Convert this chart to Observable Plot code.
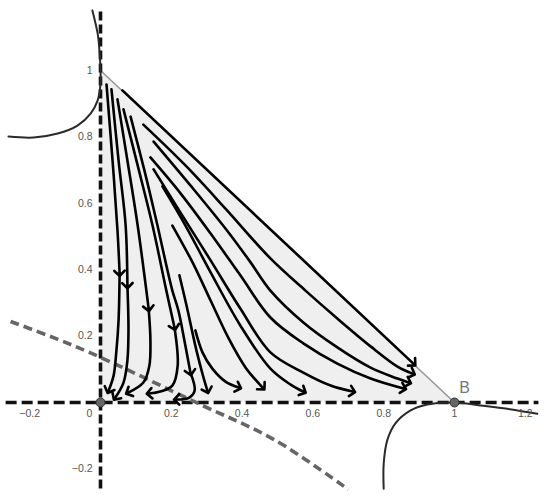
<!DOCTYPE html>
<html>
<head>
<meta charset="utf-8">
<script src="https://cdn.jsdelivr.net/npm/d3@7"></script>
<script src="https://cdn.jsdelivr.net/npm/@observablehq/plot@0.6"></script>
<style>
  body { margin: 0; background: #fff; }
</style>
</head>
<body>
<div id="chart"></div>
<script>
// ---- tick values and labels ----
const xTicks = [-0.2, 0, 0.2, 0.4, 0.6, 0.8, 1, 1.2];
const xTickLabels = ["−0.2", "0", "0.2", "0.4", "0.6", "0.8", "1", "1.2"];
const yTicks = [-0.2, 0.2, 0.4, 0.6, 0.8, 1];
const yTickLabels = ["−0.2", "0.2", "0.4", "0.6", "0.8", "1"];

// ---- region, equilibria, extents ----
const triangle = [[0, 1], [1, 0]];
const equilibria = [[0, 0], [1, 0]];
const equilibriumNames = ["", "B"];
const xAxisExtent = [-0.268, 1.237];
const yAxisExtent = [-0.259, 1.19];

// ---- curves ----
const leftCurve = [[-0.260, 0.801], [-0.189, 0.798], [-0.121, 0.810], [-0.065, 0.834], [-0.028, 0.870], [-0.008, 0.910], [0, 0.961], [0, 1.0], [-0.003, 1.060], [-0.008, 1.111], [-0.023, 1.181]];
const rightCurve = [[0.800, -0.260], [0.800, -0.184], [0.810, -0.114], [0.833, -0.063], [0.876, -0.024], [0.923, -0.006], [1.0, 0], [1.073, -0.009], [1.149, -0.019], [1.234, -0.034]];
const nullcline = [[-0.254, 0.244], [-0.12, 0.19], [0, 0.136], [0.27, 0], [0.494, -0.114], [0.70, -0.262]];

// ---- trajectories ----
const H  = [[0.062, 0.940], [0.884, 0.117]];
const L1 = [[0.017, 0.958], [0.034, 0.729], [0.048, 0.518], [0.054, 0.389], [0.051, 0.247], [0.045, 0.157], [0.037, 0.081], [0.023, 0.036]];
const L2 = [[0.031, 0.943], [0.051, 0.729], [0.071, 0.533], [0.076, 0.352], [0.079, 0.217], [0.076, 0.127], [0.065, 0.060], [0.042, 0.015]];
const L3 = [[0.048, 0.913], [0.076, 0.729], [0.105, 0.533], [0.136, 0.283], [0.141, 0.187], [0.138, 0.111], [0.121, 0.060], [0.079, 0.030]];
const L4 = [[0.065, 0.883], [0.105, 0.714], [0.147, 0.533], [0.186, 0.337], [0.209, 0.226], [0.218, 0.111], [0.203, 0.051], [0.169, 0.033], [0.138, 0.027]];
const L5 = [[0.085, 0.861], [0.124, 0.699], [0.161, 0.533], [0.186, 0.413], [0.203, 0.337], [0.220, 0.277], [0.237, 0.187], [0.254, 0.090], [0.266, 0.036], [0.251, 0.015], [0.215, 0.009]];
const U1 = [[0.121, 0.837], [0.240, 0.714], [0.353, 0.584], [0.480, 0.434], [0.579, 0.337], [0.669, 0.253], [0.763, 0.169], [0.839, 0.108], [0.881, 0.087]];
const U2 = [[0.150, 0.786], [0.254, 0.654], [0.353, 0.524], [0.424, 0.422], [0.480, 0.337], [0.573, 0.241], [0.669, 0.166], [0.763, 0.105], [0.839, 0.072], [0.870, 0.060]];
const U3 = [[0.141, 0.738], [0.226, 0.630], [0.311, 0.509], [0.395, 0.383], [0.480, 0.256], [0.573, 0.178], [0.669, 0.117], [0.763, 0.072], [0.856, 0.042]];
const U4 = [[0.150, 0.702], [0.226, 0.572], [0.311, 0.428], [0.395, 0.283], [0.480, 0.151], [0.573, 0.090], [0.650, 0.051], [0.712, 0.033]];
const U5 = [[0.175, 0.651], [0.240, 0.533], [0.311, 0.392], [0.395, 0.232], [0.480, 0.102], [0.537, 0.054], [0.573, 0.033]];
const U6 = [[0.203, 0.533], [0.260, 0.422], [0.311, 0.307], [0.362, 0.193], [0.410, 0.105], [0.458, 0.045]];
const S2 = [[0.223, 0.383], [0.243, 0.292], [0.271, 0.157], [0.291, 0.075], [0.302, 0.036]];
const S3 = [[0.268, 0.217], [0.288, 0.151], [0.316, 0.102], [0.353, 0.063], [0.390, 0.045]];

const trajectoryNames = ["H", "L1", "L2", "L3", "L4", "L5", "U1", "U2", "U3", "U4", "U5", "U6", "S2", "S3"];
const trajectories = [H, L1, L2, L3, L4, L5, U1, U2, U3, U4, U5, U6, S2, S3];
// index of the point that carries a mid-way arrow (-1: none)
const midArrowIndex = [-1, 3, 3, 3, 4, 7, -1, -1, -1, -1, -1, -1, -1, -1];

// build segments (split where a mid arrow sits)
const segs = [];
trajectories.forEach((pts, k) => {
  const m = midArrowIndex[k];
  const parts = m > 0 ? [pts.slice(0, m + 1), pts.slice(m)] : [pts];
  parts.forEach((p, i) => p.forEach(([x, y]) => segs.push({x, y, seg: trajectoryNames[k] + "_" + i})));
});

const font = "Liberation Sans, Arial, sans-serif";
const xLab = xTicks.map((v, i) => ({v, l: xTickLabels[i]}));
const yLab = yTicks.map((v, i) => ({v, l: yTickLabels[i]}));

const chart = Plot.plot({
  width: 550,
  height: 500,
  margin: 0,
  x: {domain: [-0.2825, 1.2712], axis: null},
  y: {domain: [-0.2952, 1.2108], axis: null},
  style: {background: "#fff", fontFamily: font},
  marks: [
    Plot.areaY(triangle, {x: d => d[0], y: d => d[1], fill: "#efefef"}),
    Plot.line(triangle, {x: d => d[0], y: d => d[1], stroke: "#999", strokeWidth: 1.6}),
    Plot.line([[xAxisExtent[0], 0], [xAxisExtent[1], 0]], {x: d => d[0], y: d => d[1], stroke: "#111", strokeWidth: 3.6, strokeDasharray: "11,5", strokeLinecap: "butt"}),
    Plot.line([[0, yAxisExtent[0]], [0, yAxisExtent[1]]], {x: d => d[0], y: d => d[1], stroke: "#111", strokeWidth: 3.6, strokeDasharray: "9,4", strokeLinecap: "butt"}),
    Plot.line(nullcline, {x: d => d[0], y: d => d[1], curve: "catmull-rom", stroke: "#666", strokeWidth: 3.6, strokeDasharray: "9,5", strokeLinecap: "butt"}),
    Plot.line(leftCurve, {x: d => d[0], y: d => d[1], curve: "catmull-rom", stroke: "#2a2a2a", strokeWidth: 2}),
    Plot.line(rightCurve, {x: d => d[0], y: d => d[1], curve: "catmull-rom", stroke: "#2a2a2a", strokeWidth: 2}),
    Plot.line(segs, {x: "x", y: "y", z: "seg", curve: "catmull-rom", stroke: "#000", strokeWidth: 2.6, markerEnd: "arrow"}),
    Plot.dot(equilibria, {x: d => d[0], y: d => d[1], r: 4.5, fill: "#666", stroke: "#333", strokeWidth: 1}),
    Plot.text([equilibria[1]], {x: d => d[0], y: d => d[1], text: () => equilibriumNames[1], dx: 10, dy: -15, fontSize: 16, fill: "#777", fontFamily: font}),
    Plot.text(xLab.filter(d => d.v !== 0), {x: "v", y: () => 0, text: "l", dy: 11, fontSize: 10.5, fill: "#555", fontFamily: font}),
    Plot.text(xLab.filter(d => d.v === 0), {x: "v", y: () => 0, text: "l", dy: 11, dx: -11, fontSize: 10.5, fill: "#555", fontFamily: font}),
    Plot.text(yLab, {x: () => 0, y: "v", text: "l", dx: -8, textAnchor: "end", fontSize: 10.5, fill: "#555", fontFamily: font})
  ]
});
document.getElementById("chart").appendChild(chart);
</script>
</body>
</html>
